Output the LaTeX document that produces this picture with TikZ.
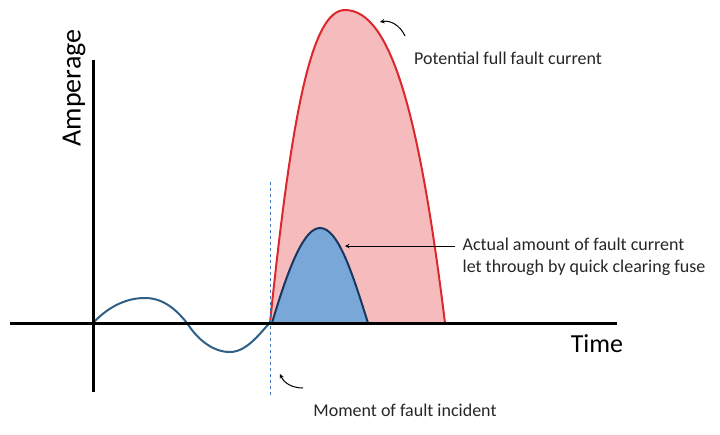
\documentclass[tikz,border=0pt]{standalone}
\usepackage{fontspec}
\setmainfont{Carlito}
\definecolor{redfill}{RGB}{245,187,189}
\definecolor{redline}{RGB}{220,40,45}
\definecolor{bluefill}{RGB}{120,167,216}
\definecolor{blueline}{RGB}{25,55,95}
\definecolor{sine}{RGB}{45,95,135}
\definecolor{dash}{RGB}{60,120,190}
\begin{document}
\begin{tikzpicture}[x=1pt,y=-1pt,
  lbl/.style={font=\fontsize{18}{22}\selectfont,text=black!85},
  ax/.style={line width=3pt,black},
  carrow/.style={-stealth,line width=1pt,black}]
\useasboundingbox (0,0) rectangle (720,434);
\coordinate (o) at (93,323);
\coordinate (f) at (270,323);
\draw[fill=redfill,draw=redline,line width=2pt]
  (f) .. controls (292,110) and (312,10) .. (345,10) .. controls (392,10) and (420,120) .. (445,323) -- cycle;
\draw[fill=bluefill,draw=blueline,line width=2pt]
  (272,323) .. controls (290,262) and (305,228) .. (320,228) .. controls (338,228) and (352,272) .. (368,323);
\draw[line width=2pt,color=sine]
  (o) .. controls (110,305) and (128,298) .. (145,298) .. controls (165,298) and (178,312) .. (187,323)
  .. controls (198,340) and (213,352) .. (230,352) .. controls (248,352) and (262,330) .. (f);
\draw[dashed,line width=1pt,color=dash] (270,182) -- (270,396);
\draw[ax] (10,323) -- (617,323);
\draw[ax] (93,60) -- (93,392);
\node[rotate=90,font=\fontsize{28}{30}\selectfont] (amp) at (74,88) {Amperage};
\node[font=\fontsize{26}{28}\selectfont] (time) at (597,344) {Time};
\node[lbl] (pot) at (508,58) {Potential full fault current};
\node[lbl,align=left] (act) at (584,257) {Actual amount of fault current\\let through by quick clearing fuse};
\node[lbl] (mom) at (405,410) {Moment of fault incident};
\coordinate (pa) at (380,22);
\coordinate (aa) at (345,246);
\coordinate (ma) at (280,374);
\coordinate (as) at (455,246);
\draw[carrow] (405,36) .. controls (400,25) and (390,20) .. (pa);
\draw[carrow] (as) -- (aa);
\draw[carrow] (303,388) .. controls (292,388) and (284,383) .. (ma);
\end{tikzpicture}
\end{document}
